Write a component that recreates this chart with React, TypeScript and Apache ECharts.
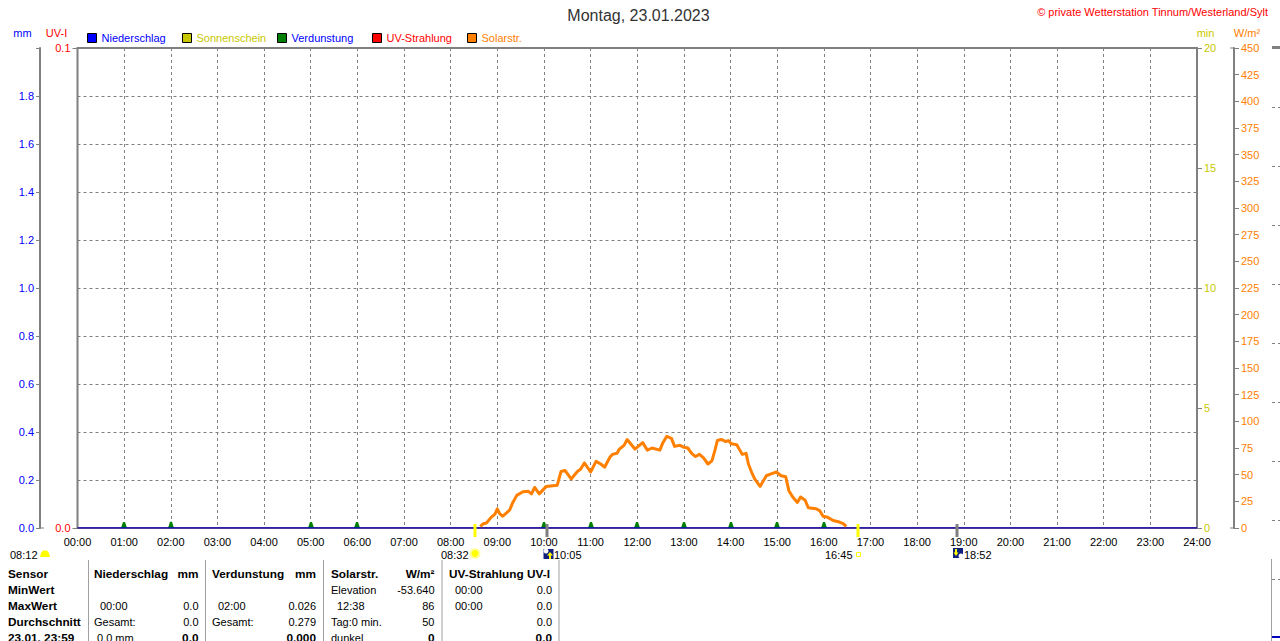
import React, { useEffect, useRef } from "react";
import * as echarts from "echarts";

const FONT = '"Liberation Sans", Arial, sans-serif';
const GRAY = "#808080";
const BLUE = "#0000ff";
const RED = "#ff0000";
const OLIVE = "#c8c800";
const GREEN = "#008000";
const ORANGE = "#ff8000";

// Solar radiation: [minute of day, W/m²]
const solarMinutes = [518, 522, 526, 532, 537, 540, 543, 547, 556, 560, 565, 573, 580, 584, 588, 594, 603, 617, 622, 627, 635, 643, 647, 652, 660, 667, 673, 678, 685, 688, 694, 697, 703, 707, 717, 727, 733, 739, 749, 753, 758, 764, 768, 775, 779, 785, 790, 795, 800, 805, 811, 816, 820, 823, 828, 834, 837, 841, 848, 852, 855, 860, 863, 867, 871, 878, 886, 893, 899, 905, 911, 915, 920, 926, 930, 936, 940, 950, 955, 959, 965, 972, 980, 985, 989];
const solarValues = [1.6, 4, 4.7, 10, 13, 18, 13.4, 11, 17, 24, 30.6, 34, 34.4, 32, 38, 32, 39, 40, 53, 54, 46, 53, 55, 61, 52.5, 62.5, 60, 57, 66.5, 69, 70, 74, 77.5, 83, 74, 80, 73, 75, 73, 80, 86, 84, 76.5, 77.5, 76, 75, 70, 67, 69, 66, 60, 63, 73, 82, 83, 81, 82, 79, 78, 73, 69, 70, 60, 52.5, 46, 39, 49, 51, 52.5, 49, 48, 35, 29, 24, 29, 26, 19, 18, 16, 11, 10, 7, 5.6, 4, 1.6];

// Evaporation bars, one per hour slot with a reading
const evapMinutes = [60, 120, 300, 360, 600, 660, 720, 780, 840, 900, 960];
const evapValues = [0.025, 0.026, 0.025, 0.025, 0.025, 0.025, 0.025, 0.025, 0.025, 0.025, 0.025];

const rainMinutes = [0, 1440];
const rainValues = [0, 0];
const sunshineValues = [0, 0];
const uvValues = [0, 0];

const sunMarks = [512, 1005]; // 08:32, 16:45
const moonMarks = [605, 1132]; // 10:05, 18:52

const legendNames = ["Niederschlag", "Sonnenschein", "Verdunstung", "UV-Strahlung", "Solarstr."];
const legendColors = [BLUE, OLIVE, GREEN, RED, ORANGE];
const legendTextColors = [BLUE, OLIVE, BLUE, RED, ORANGE];

// Statistics table below the chart: [text, x, align, bold]
const tableRows: [string, number, string, boolean][][] = [
  [["Sensor", 8, "left", true], ["Niederschlag", 94, "left", true], ["mm", 198.5, "right", true], ["Verdunstung", 212, "left", true], ["mm", 316, "right", true], ["Solarstr.", 331, "left", true], ["W/m²", 434.5, "right", true], ["UV-Strahlung UV-I", 449, "left", true]],
  [["MinWert", 8, "left", true], ["Elevation", 331, "left", false], ["-53.640", 434.5, "right", false], ["00:00", 455, "left", false], ["0.0", 552, "right", false]],
  [["MaxWert", 8, "left", true], ["00:00", 100, "left", false], ["0.0", 198.5, "right", false], ["02:00", 218, "left", false], ["0.026", 316, "right", false], ["12:38", 337, "left", false], ["86", 434.5, "right", false], ["00:00", 455, "left", false], ["0.0", 552, "right", false]],
  [["Durchschnitt", 8, "left", true], ["Gesamt:", 94, "left", false], ["0.0", 198.5, "right", false], ["Gesamt:", 212, "left", false], ["0.279", 316, "right", false], ["Tag:0 min.", 331, "left", false], ["50", 434.5, "right", false], ["0.0", 552, "right", false]],
  [["23.01. 23:59", 8, "left", true], ["0.0 mm", 97, "left", false], ["0.0", 198.5, "right", true], ["0.000", 316, "right", true], ["dunkel", 331, "left", false], ["0", 434.5, "right", true], ["0.0", 552, "right", true]],
];
const tableRowY = [574, 590, 606, 622, 637.5];
const tableSeparators = [88.5, 205.5, 323.5, 442, 559];
const edgeDashes = [107, 166, 225, 284, 343, 402, 461, 520, 579];

const txt = (text: string, x: number, y: number, fill: string, size = 11, align = "left", bold = false) => ({
  type: "text",
  silent: true,
  style: { text, x, y, fill, font: `${bold ? "bold " : ""}${size}px ${FONT}`, textAlign: align, textVerticalAlign: "middle" },
});
const seg = (x1: number, y1: number, x2: number, y2: number, stroke = GRAY, lineWidth = 1, lineDash?: number[]) => ({
  type: "line",
  silent: true,
  shape: { x1, y1, x2, y2 },
  style: { stroke, lineWidth, lineDash },
});
const box = (x: number, y: number, width: number, height: number, fill: string, stroke?: string) => ({
  type: "rect",
  silent: true,
  shape: { x, y, width, height },
  style: { fill, stroke, lineWidth: stroke ? 1 : 0 },
});

function buildGraphics() {
  const g: any[] = [];
  g.push(txt("Montag, 23.01.2023", 638.5, 15.5, "#333333", 16, "center"));
  g.push(txt("© private Wetterstation Tinnum/Westerland/Sylt", 1268, 11.5, RED, 11, "right"));
  g.push(txt("mm", 22.5, 33, BLUE, 11, "center"));
  g.push(txt("UV-I", 56.5, 33, RED, 11, "center"));
  g.push(txt("min", 1205.5, 33, OLIVE, 11, "center"));
  g.push(txt("W/m²", 1247, 33, ORANGE, 11, "center"));
  legendNames.forEach((name, i) => {
    const x = 87.5 + i * 95;
    g.push(box(x, 33.5, 9, 9, legendColors[i], "#000000"));
    g.push(txt(name, x + 14, 38, legendTextColors[i]));
  });
  // Outer axis lines and their extra stubs
  g.push(seg(40, 48, 40, 528, GRAY, 2));
  g.push(seg(1234, 48, 1234, 528, GRAY, 2));
  g.push(seg(40, 528, 44, 528, GRAY, 1));
  g.push(seg(1230, 528, 1234, 528, GRAY, 1));
  g.push(seg(1230, 48, 1234, 48, GRAY, 1));
  // Sun and moon times
  g.push(txt("08:12", 10, 554.5, "#000000"));
  g.push({ type: "polygon", silent: true, shape: { points: [[40, 557], [41, 553], [43, 550.5], [47, 550.5], [49, 553], [50, 557]] }, style: { fill: "#ffff00" } });
  g.push(txt("08:32", 441, 554.5, "#000000"));
  g.push({ type: "circle", silent: true, shape: { cx: 475, cy: 553.5, r: 5.5 }, style: { fill: "#ffffa0" } });
  g.push({ type: "circle", silent: true, shape: { cx: 475, cy: 553.5, r: 3.5 }, style: { fill: "#ffff00" } });
  g.push(box(543.5, 549, 10, 10, "#10207f"));
  g.push({ type: "circle", silent: true, shape: { cx: 546, cy: 551, r: 2.5 }, style: { fill: "#ffffff" } });
  g.push({ type: "polygon", silent: true, shape: { points: [[550, 552], [553, 555.5], [551, 555.5], [551, 559], [549, 559], [549, 555.5], [547, 555.5]] }, style: { fill: "#ffff00" } });
  g.push(txt("10:05", 554, 554.5, "#000000"));
  g.push(txt("16:45", 825, 554.5, "#000000"));
  g.push(box(856.5, 552.5, 4, 4, "none", "#ffff00"));
  g.push(box(953, 548, 10, 10, "#10207f"));
  g.push({ type: "circle", silent: true, shape: { cx: 961, cy: 556, r: 2.5 }, style: { fill: "#ffffff" } });
  g.push({ type: "polygon", silent: true, shape: { points: [[956, 556], [953.5, 552.5], [955, 552.5], [955, 549], [957, 549], [957, 552.5], [958.5, 552.5]] }, style: { fill: "#ffff00" } });
  g.push(txt("18:52", 964, 554.5, "#000000"));
  // Table
  tableSeparators.forEach((x) => g.push(seg(x, 560, x, 641, "#a0a0a0", 1)));
  tableRows.forEach((row, r) =>
    row.forEach(([text, x, align, bold]) => g.push(txt(text, x, tableRowY[r], "#000000", bold ? 11.8 : 11, align, bold)))
  );
  // Neighbouring panel's edge at the far right
  g.push(seg(1272, 47.5, 1280, 47.5, GRAY, 3));
  edgeDashes.forEach((y) => g.push(seg(1272, y + 0.5, 1280, y + 0.5, GRAY, 1, [3, 3])));
  g.push(seg(1271.5, 559, 1271.5, 641, "#a0a0a0", 1));
  g.push(seg(1272, 637, 1280, 637, "#0000c0", 2));
  return g;
}

const markItem = (color: string) => (_p: any, api: any) => {
  const c = api.coord([api.value(0), 0]);
  return {
    type: "rect",
    shape: { x: Math.floor(c[0]) - 1.5, y: c[1] - 4, width: 3, height: 13 },
    style: { fill: color },
  };
};

export default function App() {
  const ref = useRef<HTMLDivElement>(null);
  useEffect(() => {
    document.documentElement.style.overflow = "hidden";
    document.body.style.margin = "0";
    document.body.style.background = "#ffffff";
    const chart = echarts.init(ref.current!, undefined, { renderer: "svg" });
    const axisCommon = { type: "value", splitLine: { show: false } };
    const zeroPair = (vals: number[]) => rainMinutes.map((m, i) => [m, vals[i]]);
    chart.setOption({
      animation: false,
      backgroundColor: "#ffffff",
      textStyle: { fontFamily: FONT },
      grid: { left: 77.5, top: 48, width: 1119.5, height: 480, show: true, borderColor: GRAY, borderWidth: 2, backgroundColor: "transparent" },
      xAxis: {
        type: "value",
        min: 0,
        max: 1440,
        interval: 60,
        axisLine: { show: false },
        axisTick: { show: false },
        axisLabel: {
          color: "#000000",
          fontSize: 11,
          fontFamily: FONT,
          margin: 8,
          hideOverlap: false,
          showMinLabel: true,
          showMaxLabel: true,
          formatter: (v: number) => `${String(v / 60).padStart(2, "0")}:00`,
        },
        splitLine: { show: true, lineStyle: { color: GRAY, type: [3, 3], width: 1 } },
      },
      yAxis: [
        {
          ...axisCommon,
          position: "left",
          offset: 37.5,
          min: 0,
          max: 2,
          interval: 0.2,
          axisLine: { show: true, onZero: false, lineStyle: { color: GRAY, width: 2 } },
          axisTick: { show: true, length: 4, lineStyle: { color: GRAY } },
          axisLabel: { color: BLUE, fontSize: 11, fontFamily: FONT, margin: 6, formatter: (v: number) => (v >= 2 ? "" : v.toFixed(1)) },
          splitLine: { show: true, lineStyle: { color: GRAY, type: [3, 3], width: 1 } },
        },
        {
          ...axisCommon,
          position: "left",
          min: 0,
          max: 0.1,
          interval: 0.1,
          axisLine: { show: false },
          axisTick: { show: true, length: 5, lineStyle: { color: GRAY } },
          axisLabel: { color: RED, fontSize: 11, fontFamily: FONT, margin: 7, formatter: (v: number) => v.toFixed(1) },
        },
        {
          ...axisCommon,
          position: "right",
          min: 0,
          max: 20,
          interval: 5,
          axisLine: { show: false },
          axisTick: { show: true, length: 5, lineStyle: { color: GRAY } },
          axisLabel: { color: OLIVE, fontSize: 11, fontFamily: FONT, margin: 7 },
        },
        {
          ...axisCommon,
          position: "right",
          offset: 37,
          min: 0,
          max: 450,
          interval: 25,
          axisLine: { show: true, onZero: false, lineStyle: { color: GRAY, width: 2 } },
          axisTick: { show: true, length: 5, lineStyle: { color: GRAY } },
          axisLabel: { color: ORANGE, fontSize: 11, fontFamily: FONT, margin: 7 },
        },
      ],
      series: [
        { name: "UV-Strahlung", type: "line", yAxisIndex: 1, data: zeroPair(uvValues), showSymbol: false, lineStyle: { color: RED, width: 1 }, z: 3 },
        { name: "Sonnenschein", type: "line", yAxisIndex: 2, data: zeroPair(sunshineValues), showSymbol: false, lineStyle: { color: OLIVE, width: 1 }, z: 3 },
        {
          name: "Verdunstung",
          type: "custom",
          yAxisIndex: 0,
          z: 4,
          data: evapMinutes.map((m, i) => [m, evapValues[i]]),
          encode: { x: 0, y: 1 },
          renderItem: (_p: any, api: any) => {
            const top = api.coord([api.value(0), api.value(1)]);
            const base = api.coord([api.value(0), 0]);
            const x = Math.round(top[0]);
            return {
              type: "polygon",
              shape: { points: [[x - 3, base[1]], [x - 2, base[1] - 3], [x - 1, top[1]], [x + 1, top[1]], [x + 2, base[1] - 3], [x + 3, base[1]]] },
              style: { fill: GREEN },
            };
          },
        },
        { name: "Niederschlag", type: "line", yAxisIndex: 0, data: zeroPair(rainValues), showSymbol: false, lineStyle: { color: "#0000d8", width: 1.5 }, z: 5 },
        {
          name: "Solarstr.",
          type: "line",
          yAxisIndex: 3,
          data: solarMinutes.map((m, i) => [m, solarValues[i]]),
          showSymbol: false,
          smooth: false,
          lineStyle: { color: ORANGE, width: 3, join: "round" },
          z: 6,
        },
        { name: "Sonnenauf-/untergang", type: "custom", yAxisIndex: 0, z: 7, data: sunMarks.map((m) => [m]), encode: { x: 0 }, renderItem: markItem("#ffff00") },
        { name: "Mondauf-/untergang", type: "custom", yAxisIndex: 0, z: 7, data: moonMarks.map((m) => [m]), encode: { x: 0 }, renderItem: markItem(GRAY) },
      ],
      graphic: { elements: buildGraphics() },
    });
    return () => chart.dispose();
  }, []);
  return <div ref={ref} style={{ position: "absolute", left: 0, top: 0, width: 1280, height: 641, overflow: "hidden" }} />;
}
